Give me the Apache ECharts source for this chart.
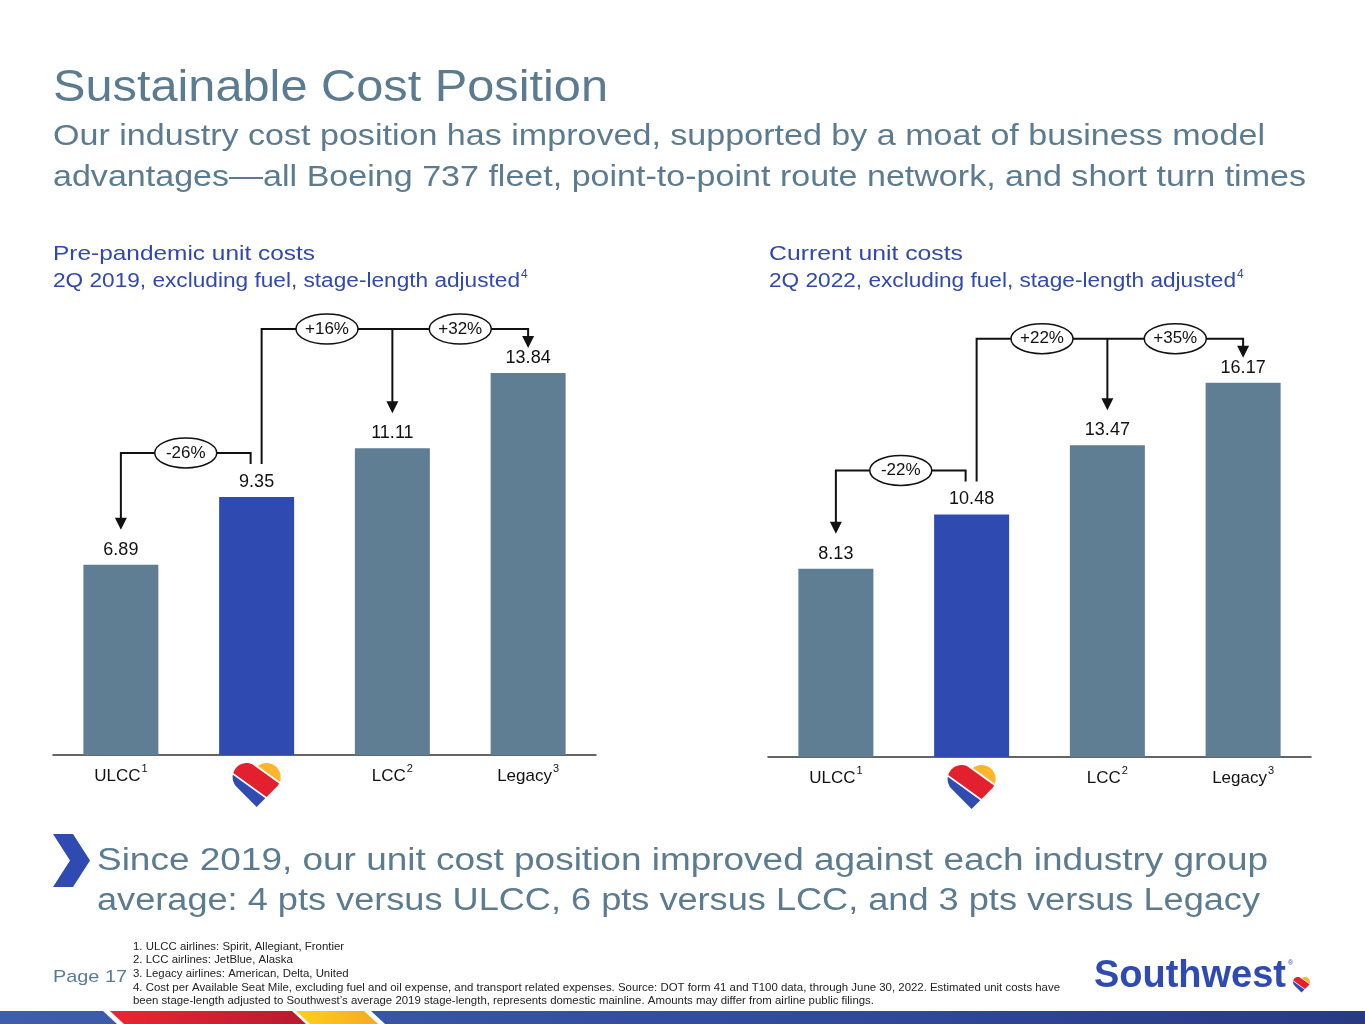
<!DOCTYPE html>
<html>
<head>
<meta charset="utf-8">
<title>Sustainable Cost Position</title>
<script src="https://cdn.jsdelivr.net/npm/echarts@6/dist/echarts.min.js"></script>
<style>
  html, body { margin: 0; padding: 0; background: #fff; }
  #main { width: 1365px; height: 1024px; }
</style>
</head>
<body>
<div id="main"></div>
<script>
// chart data
const categories = ['ULCC', 'Southwest', 'LCC', 'Legacy'];
const categoryNotes = ['1', '', '2', '3'];
const cost2019 = [6.89, 9.35, 11.11, 13.84];
const cost2022 = [8.13, 10.48, 13.47, 16.17];
const change2019 = ['-26%', '+16%', '+32%'];
const change2022 = ['-22%', '+22%', '+35%'];
const panelTitles = ['Pre-pandemic unit costs', 'Current unit costs'];
const panelSubtitles = ['2Q 2019, excluding fuel, stage-length adjusted', '2Q 2022, excluding fuel, stage-length adjusted'];
const footnotes = [
  '1. ULCC airlines: Spirit, Allegiant, Frontier',
  '2. LCC airlines: JetBlue, Alaska',
  '3. Legacy airlines: American, Delta, United',
  '4. Cost per Available Seat Mile, excluding fuel and oil expense, and transport related expenses. Source: DOT form 41 and T100 data, through June 30, 2022. Estimated unit costs have',
  'been stage-length adjusted to Southwest\u2019s average 2019 stage-length, represents domestic mainline. Amounts may differ from airline public filings.'
];

const SLATE = '#5F7E93';
const SW_BLUE = '#2F4BB2';
const TEXT = '#5B7B91';
const HEAD = '#3148AF';
const INK = '#111';
const FONT = '"Liberation Sans", Arial, sans-serif';

const chart = echarts.init(document.getElementById('main'));

const measureCtx = document.createElement('canvas').getContext('2d');
function measure(str, font) {
  measureCtx.font = font;
  return measureCtx.measureText(str).width;
}

// text stretched horizontally to the width it has in the slide
function fitText(str, x, y, size, color, width, weight) {
  const font = `${weight || 'normal'} ${size}px ${FONT}`;
  return {
    type: 'text', x: x, y: y, scaleX: width / measure(str, font), silent: true,
    style: { text: str, font: font, fill: color, textVerticalAlign: 'middle' }
  };
}

function catAxis(idx) {
  return {
    type: 'category', gridIndex: idx, data: categories,
    axisLine: { lineStyle: { color: '#333', width: 1.5 } },
    axisTick: { show: false },
    axisLabel: {
      interval: 0, margin: 8,
      formatter: (v, i) => i === 1 ? '' : `{n|${v}}{s|${categoryNotes[i]}}`,
      rich: {
        n: { fontSize: 17, fontFamily: FONT, color: INK },
        s: { fontSize: 11, fontFamily: FONT, color: INK, padding: [0, 0, 16, 1] }
      }
    }
  };
}

function barSeries(data, idx) {
  return {
    type: 'bar', xAxisIndex: idx, yAxisIndex: idx, data: data, barWidth: 75, silent: true,
    itemStyle: { color: p => p.dataIndex === 1 ? SW_BLUE : SLATE },
    label: {
      show: true, position: 'top', distance: 6,
      formatter: p => p.value.toFixed(2),
      fontSize: 18, fontFamily: FONT, color: INK
    }
  };
}

chart.setOption({
  animation: false,
  grid: [
    { left: 53, width: 543, top: 203, height: 552 },
    { left: 768, width: 543, top: 294, height: 463 }
  ],
  xAxis: [catAxis(0), catAxis(1)],
  yAxis: [
    { type: 'value', gridIndex: 0, min: 0, max: 20, show: false },
    { type: 'value', gridIndex: 1, min: 0, max: 20, show: false }
  ],
  series: [barSeries(cost2019, 0), barSeries(cost2022, 1)]
});

// heart logo: rotated square with two half circles, cut into three stripes
function clipHalf(poly, fn) {
  const out = [];
  for (let i = 0; i < poly.length; i++) {
    const a = poly[i], b = poly[(i + 1) % poly.length];
    const fa = fn(a), fb = fn(b);
    if (fa >= 0) out.push(a);
    if ((fa >= 0) !== (fb >= 0)) {
      const t = fa / (fa - fb);
      out.push([a[0] + (b[0] - a[0]) * t, a[1] + (b[1] - a[1]) * t]);
    }
  }
  return out;
}

function heart(cx, top, w) {
  const a = w / (1 + Math.SQRT1_2);
  const h = a * (1.5 * Math.SQRT1_2 + 0.5);
  const tipY = top + h;
  const q = a / (2 * Math.SQRT2), r = a / 2;
  const outline = [[0, 0], [-2 * q, -2 * q]];
  for (let k = 0; k <= 30; k++) {
    const ang = (135 + k * 6) * Math.PI / 180;
    outline.push([-q + r * Math.cos(ang), -3 * q + r * Math.sin(ang)]);
  }
  for (let k = 1; k <= 30; k++) {
    const ang = (225 + k * 6) * Math.PI / 180;
    outline.push([q + r * Math.cos(ang), -3 * q + r * Math.sin(ang)]);
  }
  const pts = outline.map(p => [cx + p[0], tipY + p[1]]);
  const u = w / 48;
  const s = p => (-0.72 * (p[0] - cx) + (p[1] - tipY)) / 1.232;
  const k1 = -13, k2 = -33, gap = 0.9;
  const blue = clipHalf(pts, p => s(p) - (k1 + gap) * u);
  const red = clipHalf(clipHalf(pts, p => (k1 - gap) * u - s(p)), p => s(p) - (k2 + gap) * u);
  const yellow = clipHalf(pts, p => (k2 - gap) * u - s(p));
  return [
    { type: 'polygon', silent: true, shape: { points: blue }, style: { fill: '#304CB2' } },
    { type: 'polygon', silent: true, shape: { points: red }, style: { fill: '#E2202E' } },
    { type: 'polygon', silent: true, shape: { points: yellow }, style: { fill: '#FDB52B' } }
  ];
}

function annotate(idx, values, changes) {
  const pts = values.map((v, i) => chart.convertToPixel({ seriesIndex: idx }, [i, v]));
  const base = chart.convertToPixel({ seriesIndex: idx }, [1, 0]);
  const cx = pts.map(p => p[0]), top = pts.map(p => p[1]);
  const els = [];
  const line = points => els.push({ type: 'polyline', silent: true, z: 5, shape: { points }, style: { stroke: INK, lineWidth: 2, fill: null } });
  const arrow = (x, tip) => els.push({ type: 'polygon', silent: true, z: 5, shape: { points: [[x - 6, tip - 12], [x + 6, tip - 12], [x, tip]] }, style: { fill: INK } });
  const bubble = (x, y, txt) => {
    els.push({ type: 'ellipse', silent: true, z: 6, shape: { cx: x, cy: y, rx: 31, ry: 15 }, style: { fill: '#fff', stroke: INK, lineWidth: 1.5 } });
    els.push({ type: 'text', silent: true, z: 7, x: x, y: y, style: { text: txt, font: `17px ${FONT}`, fill: INK, textAlign: 'center', textVerticalAlign: 'middle' } });
  };
  const low = top[1] - 44, high = top[3] - 44;
  const swL = cx[1] - 6, swR = cx[1] + 5, swEnd = top[1] - 33;
  line([[cx[0], top[0] - 45], [cx[0], low], [swL, low], [swL, swEnd]]);
  arrow(cx[0], top[0] - 35);
  line([[swR, swEnd], [swR, high], [cx[3], high], [cx[3], top[3] - 35]]);
  arrow(cx[3], top[3] - 25);
  line([[cx[2], high], [cx[2], top[2] - 45]]);
  arrow(cx[2], top[2] - 35);
  bubble((cx[0] + swL) / 2, low, changes[0]);
  bubble((swR + cx[2]) / 2, high, changes[1]);
  bubble((cx[2] + cx[3]) / 2, high, changes[2]);
  return els.concat(heart(cx[1], base[1] + 8, 48));
}

function panelHeader(x, idx, line1W, line2W) {
  const els = [
    fitText(panelTitles[idx], x, 254, 21, HEAD, line1W),
    fitText(panelSubtitles[idx], x, 281, 20, HEAD, line2W)
  ];
  els.push({ type: 'text', silent: true, x: x + line2W + 1, y: 275, style: { text: '4', font: `12px ${FONT}`, fill: HEAD, textVerticalAlign: 'middle' } });
  return els;
}

const graphics = [
  fitText('Sustainable Cost Position', 53, 89, 44, TEXT, 555),
  fitText('Our industry cost position has improved, supported by a moat of business model', 53, 137, 29, TEXT, 1212),
  fitText('advantages\u2014all Boeing 737 fleet, point-to-point route network, and short turn times', 53, 178, 29, TEXT, 1253),
  ...panelHeader(53, 0, 262, 467),
  ...panelHeader(769, 1, 194, 467),
  ...annotate(0, cost2019, change2019),
  ...annotate(1, cost2022, change2022),
  { type: 'polygon', silent: true, shape: { points: [[53, 834], [73, 834], [90, 860.5], [73, 887], [53, 887], [70, 860.5]] }, style: { fill: SW_BLUE } },
  fitText('Since 2019, our unit cost position improved against each industry group', 97, 861, 31, TEXT, 1171),
  fitText('average: 4 pts versus ULCC, 6 pts versus LCC, and 3 pts versus Legacy', 97, 901, 31, TEXT, 1163),
  fitText('Page 17', 53, 977, 17, TEXT, 74)
];

const noteFont = `10.5px ${FONT}`;
const noteScale = 927 / measure(footnotes[3], noteFont);
footnotes.forEach((t, i) => {
  graphics.push({ type: 'text', silent: true, x: 133, y: 947 + i * 13.6, scaleX: noteScale, style: { text: t, font: noteFont, fill: '#222', textVerticalAlign: 'middle' } });
});

// Southwest wordmark
graphics.push(fitText('Southwest', 1094, 976, 39, SW_BLUE, 192, 'bold'));
graphics.push({ type: 'text', silent: true, x: 1288, y: 963, style: { text: '\u00AE', font: `7px ${FONT}`, fill: SW_BLUE, textVerticalAlign: 'middle' } });
graphics.push(...heart(1301.5, 977, 17));

// bottom brand stripe
graphics.push(
  { type: 'rect', silent: true, shape: { x: 0, y: 1011, width: 1365, height: 13 },
    style: { fill: new echarts.graphic.LinearGradient(0, 0, 1, 0, [{ offset: 0, color: '#3D5DAD' }, { offset: 0.6, color: '#304A9C' }, { offset: 1, color: '#283A86' }]) } },
  { type: 'polygon', silent: true, shape: { points: [[103, 1011], [371, 1011], [385, 1024], [117, 1024]] }, style: { fill: '#fff' } },
  { type: 'polygon', silent: true, shape: { points: [[110, 1011], [292, 1011], [306, 1024], [124, 1024]] },
    style: { fill: new echarts.graphic.LinearGradient(0, 0, 1, 0, [{ offset: 0, color: '#EE2430' }, { offset: 1, color: '#B81B30' }]) } },
  { type: 'polygon', silent: true, shape: { points: [[296, 1011], [364, 1011], [378, 1024], [310, 1024]] },
    style: { fill: new echarts.graphic.LinearGradient(0, 0, 1, 0, [{ offset: 0, color: '#FDD216' }, { offset: 1, color: '#F8A724' }]) } }
);

chart.setOption({ graphic: graphics });
</script>
</body>
</html>
